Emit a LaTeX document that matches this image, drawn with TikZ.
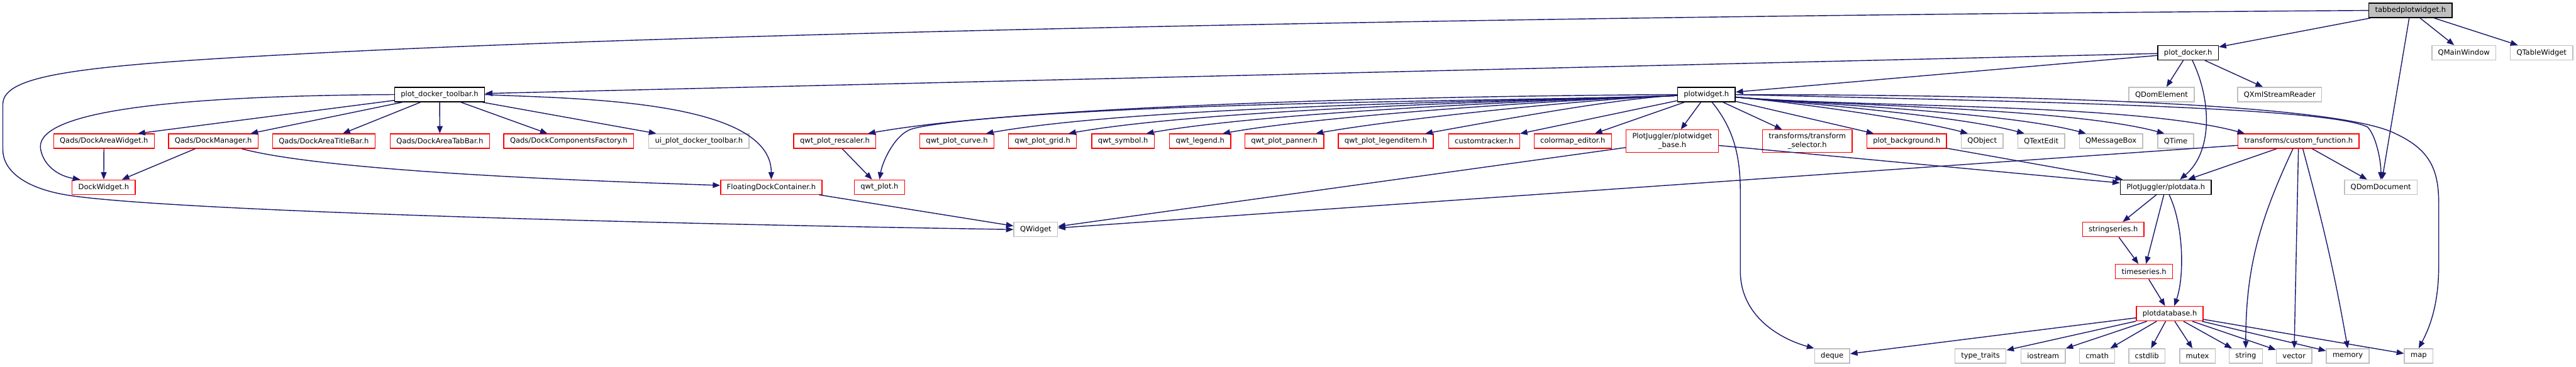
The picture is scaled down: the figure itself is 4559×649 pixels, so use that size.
\documentclass[tikz,border=0pt]{standalone}
\usepackage{fontspec}
\setmainfont{DejaVu Sans}
\usetikzlibrary{arrows.meta}
\definecolor{midnight}{HTML}{191970}
\definecolor{truncred}{HTML}{FF0000}
\definecolor{extgrey}{HTML}{BFBFBF}
\definecolor{rootgrey}{HTML}{BFBFBF}

\begin{document}
\begin{tikzpicture}[
    x=0.02cm, y=-0.02cm,
    every node/.style={font=\fontsize{7.3pt}{8.5pt}\selectfont, inner xsep=0.22cm,
        inner ysep=0.12cm, minimum height=0.512cm, line width=0.9pt},
    hdr/.style={draw=black},
    root/.style={draw=black, fill=rootgrey},
    trunc/.style={draw=truncred},
    ext/.style={draw=extgrey},
    inc/.style={draw=midnight, line width=0.9pt, -{Triangle[length=0.26cm, width=0.2cm]}},
]

% Canvas
\fill[white] (0,0) rectangle (4559,649);
\useasboundingbox (0,0) rectangle (4559,649);

% Root and first level
\node[root] (tabbed) at (4266,18.5) {tabbedplotwidget.h};
\node[hdr] (docker) at (3872.5,93.5) {plot\_docker.h};
\node[ext] (qmainwin) at (4360.5,93.5) {QMainWindow};
\node[ext] (qtablew) at (4498,93.5) {QTableWidget};

% Second level
\node[hdr] (toolbar) at (778,167.5) {plot\_docker\_toolbar.h};
\node[hdr] (plotwidget) at (3020,167.5) {plotwidget.h};
\node[ext] (qdomelem) at (3825.5,167.5) {QDomElement};
\node[ext] (qxml) at (4034.5,167.5) {QXmlStreamReader};

% Third level
\foreach \nm/\x/\col/\txt in {
    areawidget/184/truncred/{Qads/DockAreaWidget.h},
    dockmgr/377.5/truncred/{Qads/DockManager.h},
    titlebar/573/truncred/{Qads/DockAreaTitleBar.h},
    tabbar/778.5/truncred/{Qads/DockAreaTabBar.h},
    compfactory/1006.5/truncred/{Qads/DockComponentsFactory.h},
    uitoolbar/1237/extgrey/{ui\_plot\_docker\_toolbar.h},
    rescaler/1477.5/truncred/{qwt\_plot\_rescaler.h},
    curve/1693.5/truncred/{qwt\_plot\_curve.h},
    grid/1845/truncred/{qwt\_plot\_grid.h},
    symbol/1987.5/truncred/{qwt\_symbol.h},
    legend/2124/truncred/{qwt\_legend.h},
    panner/2273/truncred/{qwt\_plot\_panner.h},
    legenditem/2452.5/truncred/{qwt\_plot\_legenditem.h},
    tracker/2626.5/truncred/{customtracker.h},
    cmapedit/2783.5/truncred/{colormap\_editor.h},
    plotbg/3374.5/truncred/{plot\_background.h},
    qobject/3508/extgrey/{QObject},
    qtextedit/3612.5/extgrey/{QTextEdit},
    qmsgbox/3736/extgrey/{QMessageBox},
    qtime/3850.5/extgrey/{QTime},
    customfn/4068/truncred/{transforms/custom\_function.h}%
} {
    \node[draw=\col] (\nm) at (\x,250) {\txt};
}
\node[trunc, align=center] (pwbase) at (2959.5,250) {PlotJuggler/plotwidget\\\_base.h};
\node[trunc, align=center] (tsel) at (3198.5,250) {transforms/transform\\\_selector.h};

% Lower levels
\node[trunc] (dockwidget) at (183.5,331.5) {DockWidget.h};
\node[trunc] (floating) at (1365,331.5) {FloatingDockContainer.h};
\node[trunc] (qwtplot) at (1556.5,331.5) {qwt\_plot.h};
\node[hdr] (plotdata) at (3833,331.5) {PlotJuggler/plotdata.h};
\node[ext] (qdomdoc) at (4213.5,331.5) {QDomDocument};
\node[ext] (qwidget) at (1833,406.5) {QWidget};
\node[trunc] (strseries) at (3740,406.5) {stringseries.h};
\node[trunc] (timeseries) at (3794.5,481) {timeseries.h};
\node[trunc] (plotdb) at (3840,555.5) {plotdatabase.h};

% System headers
\foreach \nm/\x/\txt in {
    deque/3242.5/deque, typetraits/3505/type\_traits, iostream/3616/iostream,
    cmath/3711.5/cmath, cstdlib/3799.5/cstdlib, mutex/3889/mutex,
    string/3974.5/string, vector/4060/vector, memory/4155/memory, map/4280.5/map%
} {
    \node[ext] (\nm) at (\x,630.5) {\txt};
}

% tabbedplotwidget.h includes
\foreach \tgt in {docker, qmainwin, qtablew, qdomdoc}
    \draw[inc] (tabbed) -- (\tgt);
\draw[inc] (tabbed.west) .. controls (2500,30) and (1200,62) .. (600,92)
    .. controls (150,114.5) and (5,130) .. (5,185) -- (5,265)
    .. controls (5,300) and (40,332) .. (116,345)
    .. controls (250,368) and (900,392) .. (qwidget.west);

% plot_docker.h includes
\foreach \tgt in {toolbar, plotwidget, qdomelem, qxml}
    \draw[inc] (docker) -- (\tgt);
\draw[inc] ([xshift=0.15cm]docker.south) .. controls (3915,180) and (3915,270)
    .. ([xshift=0.5cm]plotdata.north);

% plot_docker_toolbar.h includes
\draw[inc] (toolbar) -- ([xshift=-0.6cm]areawidget.north east);
\foreach \tgt in {dockmgr, titlebar, tabbar, compfactory, uitoolbar}
    \draw[inc] (toolbar) -- (\tgt);
\draw[inc] (toolbar.east) to[out=-3, in=90, looseness=0.7] (floating.north);
\draw[inc] (toolbar.west) .. controls (250,170) and (60,205) .. (72,265)
    .. controls (78,295) and (105,312) .. ([xshift=0.3cm]dockwidget.north west);
\draw[inc] (areawidget) -- (dockwidget);
\draw[inc] (dockmgr) -- (dockwidget);
\draw[inc] (dockmgr) to[out=-15, in=178, looseness=0.5] (floating);
\draw[inc] (floating) -- (qwidget);
\draw[inc] (rescaler) -- (qwtplot);

% plotwidget.h includes
\foreach \tgt in {rescaler, curve, grid, symbol, legend, panner, legenditem}
    \draw[inc] (plotwidget) to[out=182, in=10, looseness=0.6] ([xshift=-0.3cm]\tgt.north east);
\draw[inc] (plotwidget.west) .. controls (2200,172) and (1700,205) .. (1615,228)
    .. controls (1585,236) and (1562,285) .. (qwtplot.north);
\foreach \tgt in {tracker, cmapedit, pwbase, tsel, plotbg}
    \draw[inc] (plotwidget) -- (\tgt);
\foreach \tgt in {qobject, qtextedit, qmsgbox, qtime, customfn}
    \draw[inc] (plotwidget) to[out=-5, in=165, looseness=0.6] ([xshift=0.25cm]\tgt.north west);
\draw[inc] (plotwidget.east) .. controls (3600,180) and (4120,190) .. (4190,225)
    .. controls (4205,240) and (4214,285) .. (qdomdoc.north);
\draw[inc] (plotwidget.east) .. controls (3700,168) and (4150,190) .. (4240,237)
    .. controls (4300,265) and (4316,300) .. (4316,360) -- (4316,470)
    .. controls (4316,540) and (4300,580) .. (map.north);
\draw[inc] ([xshift=0.2cm]plotwidget.south) .. controls (3070,230) and (3080,280) .. (3080,340)
    -- (3080,480) .. controls (3080,560) and (3150,600) .. (deque.north west);

% plotwidget_base.h, plot_background.h and custom_function.h includes
\draw[inc] (pwbase) -- (qwidget);
\draw[inc] (pwbase) -- (plotdata);
\draw[inc] (plotbg) -- (plotdata);
\foreach \tgt in {plotdata, qdomdoc, vector, qwidget}
    \draw[inc] (customfn) -- (\tgt);
\draw[inc] ([xshift=-0.2cm]customfn.south) to[out=-115, in=90] (string.north);
\draw[inc] ([xshift=0.15cm]customfn.south) to[out=-75, in=100] (memory.north);

% plotdata.h chain
\draw[inc] (plotdata) -- (strseries);
\draw[inc] (plotdata) -- (timeseries);
\draw[inc] ([xshift=0.12cm]plotdata.south) .. controls (3865,400) and (3866,490)
    .. ([xshift=0.16cm]plotdb.north);
\draw[inc] (strseries) -- (timeseries);
\draw[inc] (timeseries) -- (plotdb);
\foreach \tgt in {deque, typetraits, iostream, cmath, cstdlib, mutex, string, vector, memory, map}
    \draw[inc] (plotdb) -- (\tgt);

\end{tikzpicture}
\end{document}
